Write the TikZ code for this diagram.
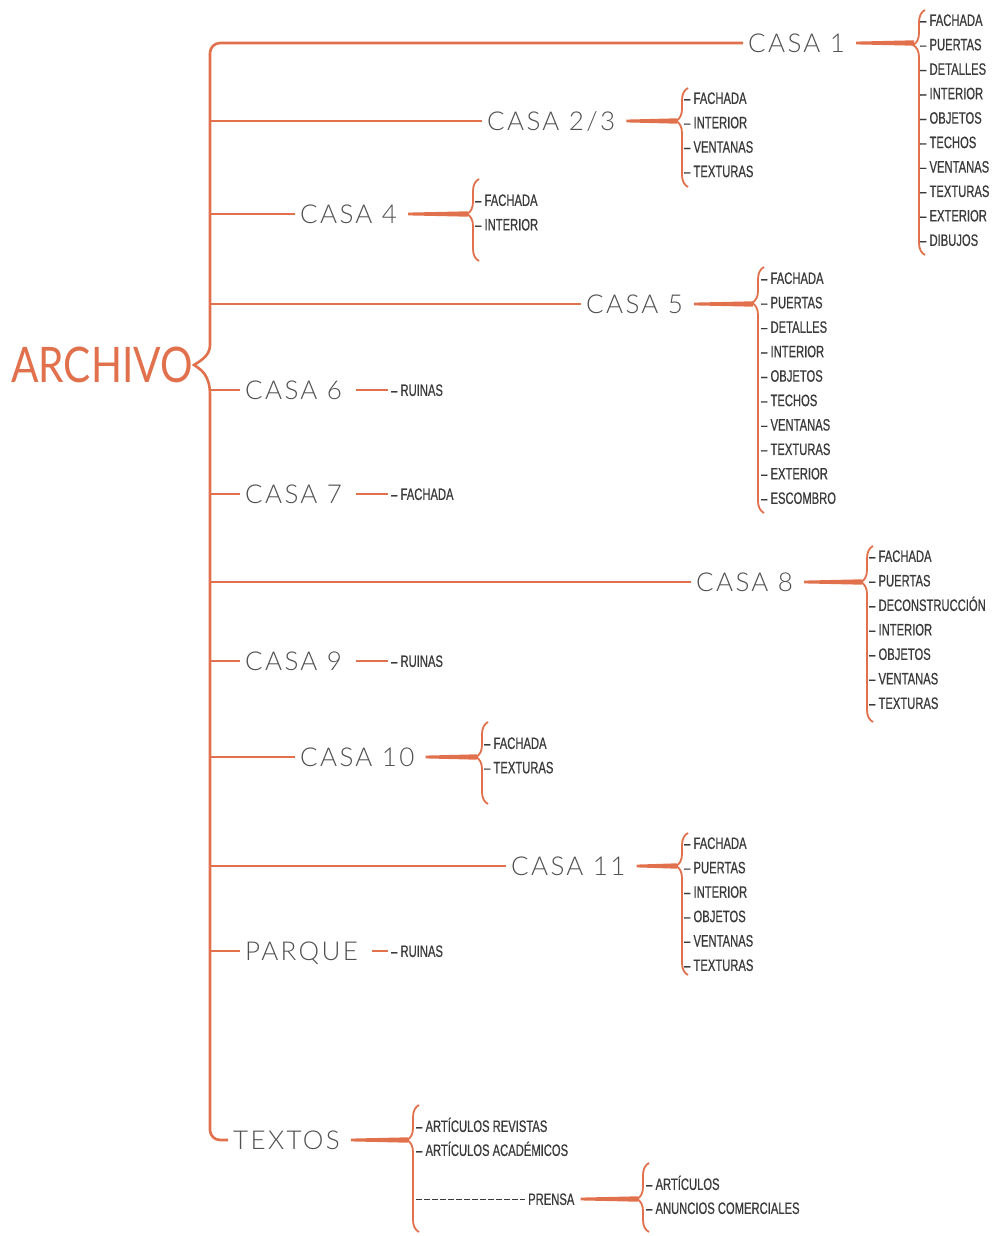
\documentclass[tikz,border=0pt]{standalone}
\usepackage{fontspec}
\setmainfont{Liberation Sans}[FakeStretch=0.68, FakeBold=0.6]
\newfontfamily\casafont{Lato Light}[LetterSpace=9]
\newfontfamily\titlefont{Lato}[FakeStretch=0.83]
\usetikzlibrary{decorations.pathreplacing, calc}

\definecolor{naranja}{RGB}{224,113,76}
\definecolor{grisoscuro}{RGB}{58,58,58}
\definecolor{grismedio}{RGB}{80,80,80}

\tikzset{
  rama/.style={draw=naranja, line width=2.6},
  cuna/.style={draw=none, fill=naranja, to path={
    ($(\tikztostart)+(6,-1.4)$) -- ($(\tikztotarget)+(0,-2.7)$)
    -- ($(\tikztotarget)+(0,2.7)$) -- ($(\tikztostart)+(6,1.4)$) -- cycle}},
  llave/.style={draw=naranja, line width=1.8, decorate,
    decoration={brace, amplitude=12, aspect=#1}},
  casa/.style={text=grismedio, font=\casafont\fontsize{26}{26}\selectfont,
    inner xsep=5, inner ysep=0, text height=18.7, text depth=0, anchor=west},
  item/.style={text=grisoscuro, font=\fontsize{16.5}{16.5}\selectfont,
    inner sep=0, text height=11.8, text depth=0, anchor=west},
  titulo/.style={text=naranja, font=\titlefont\fontsize{49}{49}\selectfont, inner sep=0}
}

\begin{document}
\begin{tikzpicture}[x=1pt,y=-1pt]
\useasboundingbox (0,0) rectangle (993,1236);

\node[titulo] (archivo) at (102,365) {ARCHIVO};

% casas
\begin{scope}[every node/.style={casa}]
  \node (casa1) at (743,43) {CASA 1};
  \node (casa23) at (482,121) {CASA 2/3};
  \node (casa4) at (295,214) {CASA 4};
  \node (casa5) at (581,304) {CASA 5};
  \node (casa6) at (240,390) {CASA 6};
  \node (casa7) at (240,494) {CASA 7};
  \node (casa8) at (691,582) {CASA 8};
  \node (casa9) at (240,661) {CASA 9};
  \node (casa10) at (295,757) {CASA 10};
  \node (casa11) at (506,866) {CASA 11};
  \node (parque) at (240,951) {PARQUE};
  \node (textos) at (228,1140) {TEXTOS};
\end{scope}

% tronco
\draw[rama] (casa1) [rounded corners=10] -- (210,43) -- (210,335) [sharp corners]
  .. controls (210,356) and (200,361) .. (194,365)
  .. controls (200,369) and (210,374) .. (210,395) [rounded corners=10]
  -- (210,1140) -- (textos);

\coordinate (t23) at (210,121);
\coordinate (t4) at (210,214);
\coordinate (t5) at (210,304);
\coordinate (t6) at (210,390);
\coordinate (t7) at (210,494);
\coordinate (t8) at (210,582);
\coordinate (t9) at (210,661);
\coordinate (t10) at (210,757);
\coordinate (t11) at (210,866);
\coordinate (tp) at (210,951);

\begin{scope}[every edge/.style={rama}]
  \path (t23) edge (casa23);
  \path (t4) edge (casa4);
  \path (t5) edge (casa5);
  \path (t6) edge (casa6);
  \path (t7) edge (casa7);
  \path (t8) edge (casa8);
  \path (t9) edge (casa9);
  \path (t10) edge (casa10);
  \path (t11) edge (casa11);
  \path (tp) edge (parque);
\end{scope}

% llaves
\draw[llave=0.857] (925,255) -- (925,10);
\draw[llave=0.667] (688,187) -- (688,88);
\draw[llave=0.573] (479,261) -- (479,179);
\draw[llave=0.854] (764,513) -- (764,267);
\draw[llave=0.795] (873,722) -- (873,546);
\draw[llave=0.573] (488,804) -- (488,722);
\draw[llave=0.768] (688,975) -- (688,833);
\draw[llave=0.724] (419,1232) -- (419,1105);
\draw[llave=0.478] (649,1232) -- (649,1163);

\coordinate (b1) at (914,43);
\coordinate (b23) at (677,121);
\coordinate (b4) at (468,214);
\coordinate (b5) at (753,304);
\coordinate (b8) at (862,582);
\coordinate (b10) at (477,757);
\coordinate (b11) at (677,866);
\coordinate (bt) at (408,1140);
\coordinate (bp) at (638,1199);

% listas
\begin{scope}[every node/.style={item}]
  \foreach \t [count=\i from 0] in {FACHADA,PUERTAS,DETALLES,INTERIOR,OBJETOS,TECHOS,VENTANAS,TEXTURAS,EXTERIOR,DIBUJOS}
    \node (c1-\i) at (920,{20+24.44*\i}) {– \t};
  \foreach \t [count=\i from 0] in {FACHADA,INTERIOR,VENTANAS,TEXTURAS}
    \node (c23-\i) at (684,{98+24.4*\i}) {– \t};
  \foreach \t [count=\i from 0] in {FACHADA,INTERIOR}
    \node (c4-\i) at (475,{200+24.5*\i}) {– \t};
  \foreach \t [count=\i from 0] in {FACHADA,PUERTAS,DETALLES,INTERIOR,OBJETOS,TECHOS,VENTANAS,TEXTURAS,EXTERIOR,ESCOMBRO}
    \node (c5-\i) at (761,{278+24.44*\i}) {– \t};
  \foreach \t [count=\i from 0] in {FACHADA,PUERTAS,DECONSTRUCCIÓN,INTERIOR,OBJETOS,VENTANAS,TEXTURAS}
    \node (c8-\i) at (869,{556+24.5*\i}) {– \t};
  \foreach \t [count=\i from 0] in {FACHADA,TEXTURAS}
    \node (c10-\i) at (484,{743+24.4*\i}) {– \t};
  \foreach \t [count=\i from 0] in {FACHADA,PUERTAS,INTERIOR,OBJETOS,VENTANAS,TEXTURAS}
    \node (c11-\i) at (684,{843+24.4*\i}) {– \t};
  \node (r6) at (391,390) {– RUINAS};
  \node (r7) at (391,494) {– FACHADA};
  \node (r9) at (391,661) {– RUINAS};
  \node (rp) at (391,951) {– RUINAS};
  \node (tx1) at (416,1126) {– ARTÍCULOS REVISTAS};
  \node (tx2) at (416,1150) {– ARTÍCULOS ACADÉMICOS};
  \node (prensa) at (528,1199) {PRENSA};
  \node (pr1) at (646,1184) {– ARTÍCULOS};
  \node (pr2) at (646,1208) {– ANUNCIOS COMERCIALES};
\end{scope}

% enlaces
\begin{scope}[every edge/.style={cuna}]
  \path (casa1.east) edge (b1);
  \path (casa23.east) edge (b23);
  \path (casa4.east) edge (b4);
  \path (casa5.east) edge (b5);
  \path (casa8.east) edge (b8);
  \path (casa10.east) edge (b10);
  \path (casa11.east) edge (b11);
  \path (textos.east) edge (bt);
  \path (prensa.east) edge (bp);
\end{scope}
\begin{scope}[every edge/.style={rama, shorten <=9, shorten >=3}]
  \path (casa6) edge (r6);
  \path (casa7) edge (r7);
  \path (casa9) edge (r9);
  \path (parque) edge (rp);
\end{scope}

\coordinate (pd) at (416,1199);
\draw[grisoscuro, line width=0.8, dash pattern=on 6 off 2] (pd) -- ([xshift=-3]prensa.west);
\end{tikzpicture}
\end{document}
